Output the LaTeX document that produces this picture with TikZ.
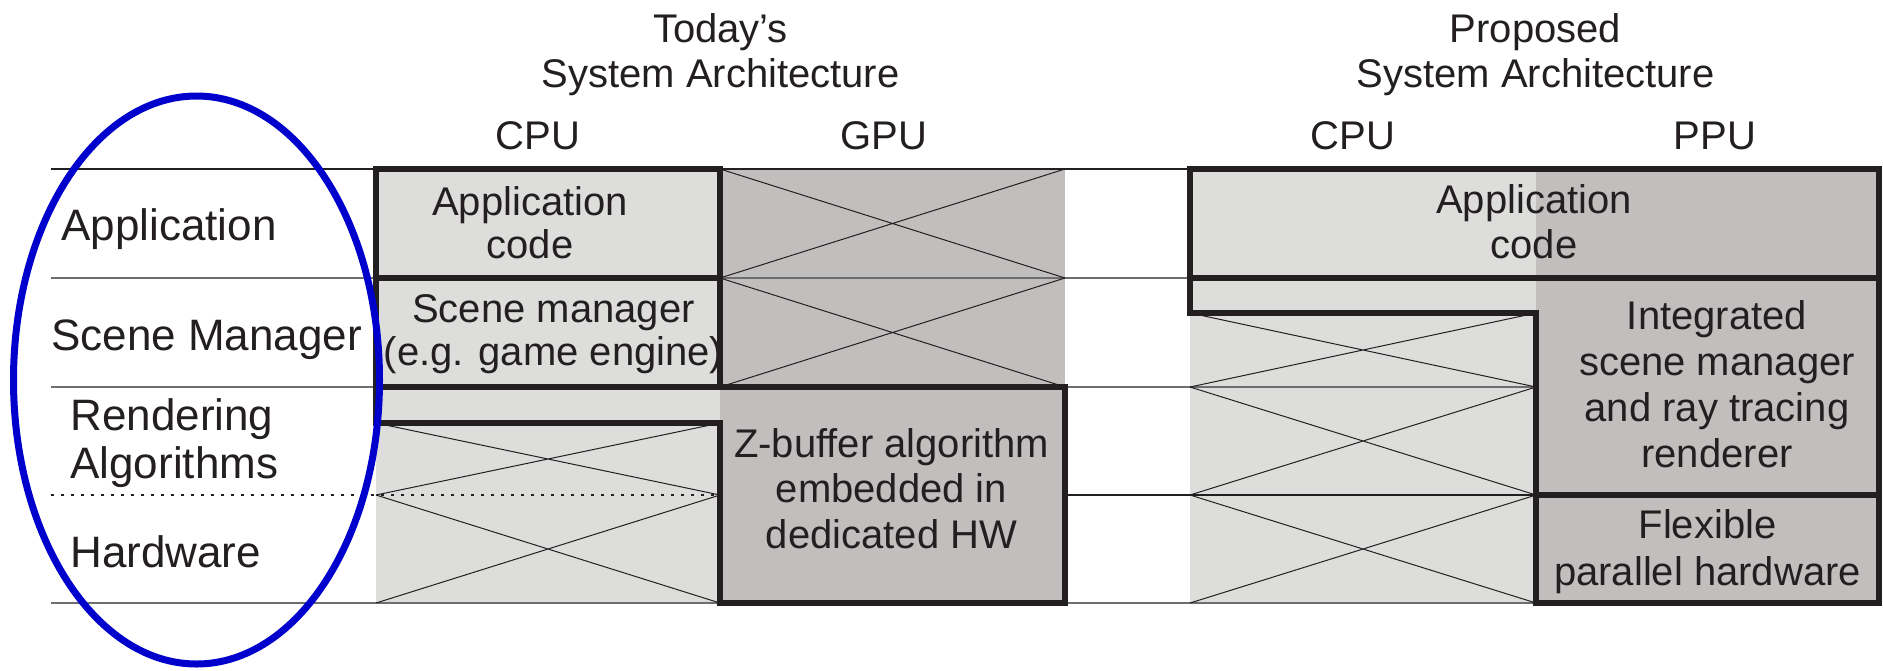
\documentclass[tikz,border=0pt]{standalone}
\usepackage{fontspec}
\setmainfont{Liberation Sans}

\definecolor{ink}{HTML}{231F20}
\definecolor{cpugray}{HTML}{DDDDDC}
\definecolor{ppugray}{HTML}{C0BFBE}
\definecolor{rulegray}{HTML}{6E6E6E}
\definecolor{ringblue}{HTML}{0000CC}

% multi-line nodes are anchored at the baseline of their last line
\tikzset{
  boxline/.style={draw=ink, line width=2.75pt, line join=miter},
  thinrule/.style={draw=rulegray, line width=0.6pt},
  darkrule/.style={draw=ink, line width=0.6pt},
  crossline/.style={draw=ink, line width=0.5pt},
  boxtext/.style={text=ink, align=center, inner sep=0pt, anchor=base},
  rowlabel/.style={font=\fontsize{22}{24}\selectfont, text=ink, align=left,
                   inner sep=0pt, anchor=base west},
  headtext/.style={font=\fontsize{20}{22.2}\selectfont, text=ink, align=center,
                   inner sep=0pt, anchor=base},
}

% crossed-out cell: both diagonals of the rectangle (x1,y1)-(x2,y2)
\newcommand\crosscell[4]{\draw[crossline] (#1,#2) -- (#3,#4) (#1,#4) -- (#3,#2);}

\begin{document}
\begin{tikzpicture}[x=0.5pt, y=-0.5pt]
\useasboundingbox (0,0) rectangle (1883,670);

% --- unused (crossed) areas ---
\fill[ppugray] (720,169) rectangle (1065,387);
\fill[cpugray] (376,423) rectangle (720,603);
\fill[cpugray] (1190,313) rectangle (1536,603);

% --- layer rules ---
\draw[darkrule] (51,169) -- (1879,169);
\draw[thinrule] (51,278) -- (1879,278);
\draw[thinrule] (51,387) -- (1879,387);
\draw[darkrule, dash pattern=on 1.5pt off 3.5pt] (51,495) -- (720,495);
\draw[darkrule] (720,495) -- (1879,495);
\draw[thinrule] (51,603) -- (1879,603);

% --- crosses ---
\crosscell{720}{169}{1065}{278}
\crosscell{720}{278}{1065}{387}
\crosscell{376}{423}{720}{495}
\crosscell{376}{495}{720}{603}
\crosscell{1190}{313}{1536}{387}
\crosscell{1190}{387}{1536}{495}
\crosscell{1190}{495}{1536}{603}

% --- today's architecture ---
\fill[cpugray] (376,169) rectangle (720,278);
\draw[boxline] (376,169) rectangle (720,278);
\fill[cpugray] (376,278) rectangle (720,387);
\draw[boxline] (376,278) rectangle (720,387);
\fill[cpugray] (376,387) rectangle (720,423);
\fill[ppugray] (720,387) rectangle (1065,603);
\draw[boxline] (376,387) -- (1065,387) -- (1065,603) -- (720,603)
               -- (720,423) -- (376,423) -- cycle;

% --- proposed architecture ---
\fill[cpugray] (1190,169) rectangle (1536,278);
\fill[ppugray] (1536,169) rectangle (1879,278);
\draw[boxline] (1190,169) rectangle (1879,278);
\fill[cpugray] (1190,278) rectangle (1536,313);
\fill[ppugray] (1536,278) rectangle (1879,495);
\draw[boxline] (1190,278) -- (1879,278) -- (1879,495) -- (1536,495)
               -- (1536,313) -- (1190,313) -- cycle;
\fill[ppugray] (1536,495) rectangle (1879,603);
\draw[boxline] (1536,495) rectangle (1879,603);

% --- headings ---
\node[headtext] (todaytitle) at (720.5,87) {Today’s\\System Architecture};
\node[headtext] (proptitle) at (1535.5,87) {Proposed\\System Architecture};
\node[headtext] (cpuold) at (538,149) {CPU};
\node[headtext] (gpu) at (884,149) {GPU};
\node[headtext] (cpunew) at (1353,149) {CPU};
\node[headtext] (ppu) at (1715,149) {PPU};

% --- layer labels ---
\node[rowlabel] (lblapp) at (61,240) {Application};
\node[rowlabel] (lblscene) at (51,350) {Scene Manager};
\node[rowlabel] (lblrender) at (70,478) {Rendering\\Algorithms};
\node[rowlabel] (lblhw) at (70,567) {Hardware};

% --- box contents ---
\node[boxtext, font=\fontsize{20}{21.5}\selectfont] (appold) at (530,258) {Application\\code};
\node[boxtext, font=\fontsize{20}{21.5}\selectfont] (scenemgr) at (553.5,365) {Scene manager\\(e.g. game engine)};
\node[boxtext, font=\fontsize{20}{22.75}\selectfont] (zbuffer) at (891.5,548) {Z-buffer algorithm\\embedded in\\dedicated HW};
\node[boxtext, font=\fontsize{20}{22.25}\selectfont] (appnew) at (1534,258) {Application\\code};
\node[boxtext, font=\fontsize{20}{22.85}\selectfont] (integrated) at (1717,467) {Integrated\\scene manager\\and ray tracing\\renderer};
\node[boxtext, font=\fontsize{20}{23.5}\selectfont] (flexible) at (1707.5,585) {Flexible\\parallel hardware};

% --- highlight ring round the layer labels ---
\draw[ringblue, line width=3.5pt] (196.5,380) ellipse [x radius=183, y radius=284];

\end{tikzpicture}
\end{document}
